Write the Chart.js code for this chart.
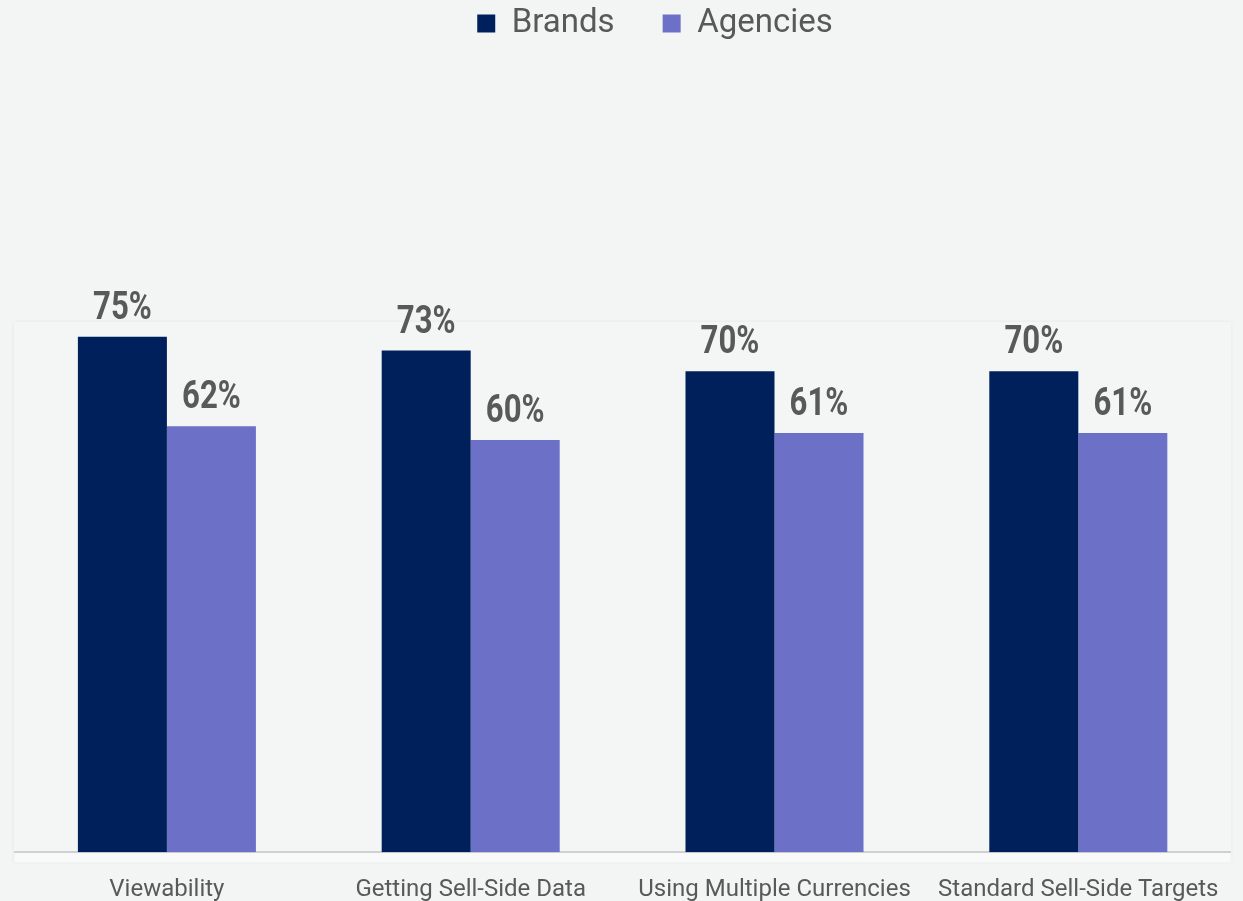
<!DOCTYPE html>
<html>
<head>
<meta charset="utf-8">
<script src="https://cdn.jsdelivr.net/npm/chart.js@4.4.1/dist/chart.umd.min.js"></script>
<style>
  html, body { margin:0; padding:0; background:#f3f5f5; }
  #wrap { width:1243px; height:901px; position:relative; }
</style>
</head>
<body>
<div id="wrap"><canvas id="c" width="1243" height="901"></canvas></div>
<script>
const categories = ["Viewability", "Getting Sell-Side Data", "Using Multiple Currencies", "Standard Sell-Side Targets"];
const brandsValues = [75, 73, 70, 70];
const agenciesValues = [62, 60, 61, 61];
const seriesNames = ["Brands", "Agencies"];

const panelPlugin = {
  id: 'panel',
  beforeDraw(chart) {
    const ctx = chart.ctx, a = chart.chartArea;
    ctx.save();
    ctx.shadowColor = 'rgba(0,0,0,0.06)';
    ctx.shadowBlur = 4;
    ctx.fillStyle = '#f4f6f6';
    ctx.fillRect(a.left - 1, 322, a.right - a.left + 2, a.bottom + 10 - 322);
    ctx.restore();
    ctx.save();
    ctx.fillStyle = '#f8f9f9';
    ctx.fillRect(a.left, a.bottom, a.right - a.left, 10);
    ctx.restore();
  }
};

const legendSpacer = {
  id: 'legendSpacer',
  beforeInit(chart) {
    const lg = chart.legend;
    const origFit = lg.fit;
    lg.fit = function () {
      origFit.bind(lg)();
      this.height = 206;
    };
    const origDraw = lg.draw;
    lg.draw = function () {
      const ctx = chart.ctx;
      ctx.save();
      ctx.translate(32, 0);
      origDraw.apply(lg, arguments);
      ctx.restore();
    };
  }
};

const valueLabels = {
  id: 'valueLabels',
  afterDatasetsDraw(chart) {
    const ctx = chart.ctx;
    ctx.save();
    ctx.fillStyle = '#595959';
    ctx.font = 'bold 38px Roboto';
    ctx.textAlign = 'center';
    ctx.textBaseline = 'alphabetic';
    chart.data.datasets.forEach((ds, i) => {
      const meta = chart.getDatasetMeta(i);
      meta.data.forEach((bar, j) => {
        ctx.save();
        ctx.translate(bar.x, bar.y - 18);
        ctx.scale(0.82, 1);
        ctx.fillText(ds.data[j] + '%', 0, 0);
        ctx.restore();
      });
    });
    ctx.restore();
  }
};

new Chart(document.getElementById('c'), {
  type: 'bar',
  data: {
    labels: categories,
    datasets: [
      { label: seriesNames[0], data: brandsValues, backgroundColor: '#00205c', borderWidth: 0 },
      { label: seriesNames[1], data: agenciesValues, backgroundColor: '#6c70c7', borderWidth: 0 }
    ]
  },
  options: {
    responsive: false,
    animation: false,
    layout: { padding: { left: 15, right: 12, top: -41, bottom: -26 } },
    plugins: {
      legend: {
        position: 'top',
        labels: {
          boxWidth: 18, boxHeight: 18, padding: 48,
          color: '#595959',
          font: { family: 'Roboto', size: 33 }
        }
      },
      tooltip: { enabled: false }
    },
    datasets: { bar: { categoryPercentage: 0.586, barPercentage: 1.0 } },
    scales: {
      x: {
        grid: { display: false, drawTicks: false },
        border: { display: true, color: '#d0d0d0', width: 2 },
        ticks: { color: '#595959', font: { family: 'Roboto', size: 24 }, padding: 23, maxRotation: 0, autoSkip: false }
      },
      y: {
        display: false,
        min: 0, max: 100
      }
    }
  },
  plugins: [panelPlugin, legendSpacer, valueLabels]
});
</script>
</body>
</html>
